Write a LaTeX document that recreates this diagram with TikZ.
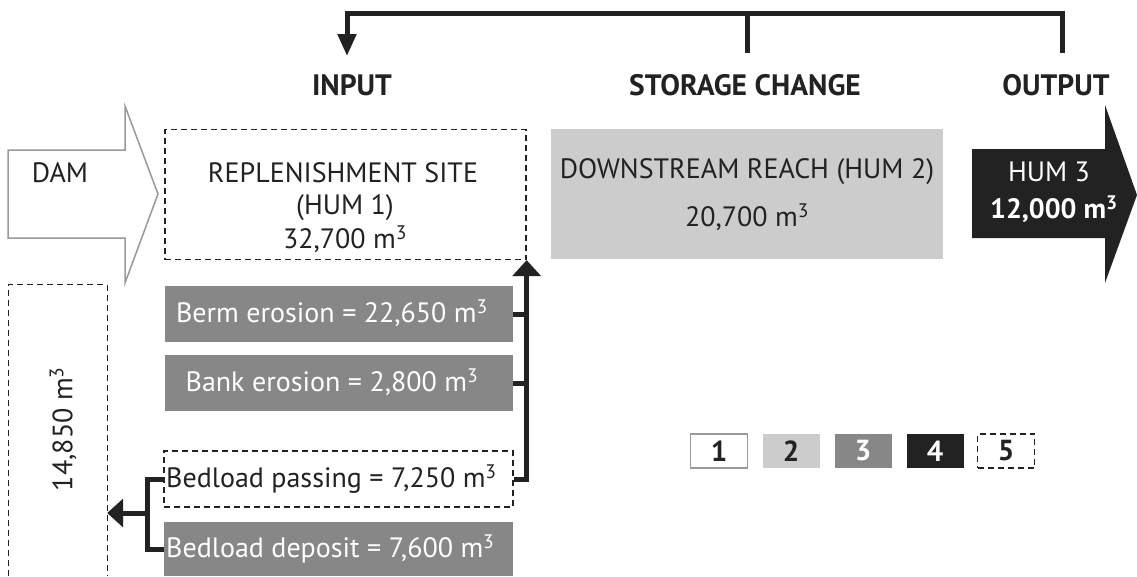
\documentclass[tikz,border=0pt]{standalone}
\usepackage{fontspec}
\setmainfont{PT Sans}
\usetikzlibrary{arrows.meta}
\definecolor{lgray}{HTML}{CCCCCC}
\definecolor{dgray}{HTML}{878787}
\definecolor{nblack}{HTML}{222222}
\definecolor{ogray}{HTML}{999999}
\begin{document}
\begin{tikzpicture}[x=1pt,y=-1pt,
  txt/.style={font=\fontsize{28}{32}\selectfont, inner sep=0pt, text=nblack},
  headtxt/.style={font=\fontsize{29.5}{32}\selectfont\bfseries, inner sep=0pt, text=nblack},
  wtxt/.style={font=\fontsize{28}{32}\selectfont, inner sep=0pt, text=white},
  dbox/.style={draw=nblack, line width=1.3pt, dash pattern=on 6pt off 4pt, inner sep=0pt},
  gbox/.style={fill=dgray, inner sep=0pt, minimum width=348pt, minimum height=56pt},
  legbox/.style={minimum width=57pt, minimum height=34pt, inner sep=0pt, font=\fontsize{29}{32}\selectfont\bfseries},
  bline/.style={line width=5pt, draw=nblack},
  tarrow/.style={bline, -{Triangle[length=22pt,width=18pt]}},
  varrow/.style={bline, -{Triangle[length=16pt,width=28pt]}},
]
\useasboundingbox[fill=white] (0,0) rectangle (1137,576);

% headings
\node[headtxt] (inp) at (352,85) {INPUT};
\node[headtxt] (stor) at (745,85) {STORAGE CHANGE};
\node[headtxt] (outp) at (1056,85) {OUTPUT};

% top bracket
\coordinate (tOut) at (1062,53);
\coordinate (tSt) at (747,53);
\coordinate (tIn) at (347,56);
\draw[tarrow] (tOut) -- ++(0,-40) -| (tIn);
\draw[bline] (tSt) -- ++(0,-40);

% DAM arrow
\draw[draw=ogray, line width=1.5pt, fill=white, line join=miter]
  (8,150) -- (125,150) -- (125,106) -- (158,194) -- (125,283) -- (125,238) -- (8,238) -- cycle;
\node[txt] (dam) at (60,173) {DAM};

% replenishment site
\node[dbox, minimum width=361pt, minimum height=130pt] (rep) at (345.5,194.5) {};
\node[txt] (rep1) at (343,173) {REPLENISHMENT SITE};
\node[txt] (rep2) at (345,208) {(HUM 1)};
\node[txt] (rep3) at (345,239) {32,700 m\textsuperscript{3}};

% downstream reach
\node[fill=lgray, inner sep=0pt, minimum width=392pt, minimum height=130pt] (ds) at (747,194) {};
\node[txt] (ds1) at (747,172) {DOWNSTREAM REACH (HUM 2)};
\node[txt] (ds2) at (747,217) {20,700 m\textsuperscript{3}};

% HUM 3 arrow
\fill[nblack] (972,149) -- (1105,149) -- (1105,105) -- (1137,195) -- (1105,283) -- (1105,238) -- (972,238) -- cycle;
\node[wtxt] (h1) at (1049,172) {HUM 3};
\node[wtxt, font=\fontsize{28}{32}\selectfont\bfseries] (h2) at (1054,209) {12,000 m\textsuperscript{3}};

% erosion boxes
\node[gbox] (berm) at (339,314) {};
\node[wtxt] (bermt) at (332,313) {Berm erosion = 22,650 m\textsuperscript{3}};
\node[gbox] (bank) at (339,383) {};
\node[wtxt] (bankt) at (332,382) {Bank erosion = 2,800 m\textsuperscript{3}};

% bedload boxes
\node[dbox, minimum width=349pt, minimum height=56pt] (bp) at (338.5,479) {};
\node[txt, anchor=west] (bpt) at (166,479) {Bedload passing = 7,250 m\textsuperscript{3}};
\node[fill=dgray, inner sep=0pt, minimum width=349pt, minimum height=54pt] (bd) at (338.5,549) {};
\node[wtxt, anchor=west] (bdt) at (166,549) {Bedload deposit = 7,600 m\textsuperscript{3}};

% left dashed box (open at the bottom)
\node[inner sep=0pt, minimum width=98pt, minimum height=291pt] (lbox) at (58,430.5) {};
\draw[dbox] (lbox.south west) -- (lbox.north west) -- (lbox.north east) -- (lbox.south east);
\node[txt, rotate=90] (lt) at (63,429) {14,850 m\textsuperscript{3}};

% connectors to replenishment site
\draw[varrow] (bp.east) -| (rep.south east);
\draw[bline] (berm.east) -- (berm.east -| rep.east);
\draw[bline] (bank.east) -- (bank.east -| rep.east);

% connectors to left box
\coordinate (jx) at (147,513);
\draw[bline] (bp.west) -| (jx) |- (bd.west);
\draw[varrow] (jx) -- (jx -| lbox.east);

% legend
\node[legbox, draw=ogray, line width=1.5pt, fill=white, text=nblack] (l1) at (719,451) {1};
\node[legbox, fill=lgray, text=nblack] (l2) at (791,451) {2};
\node[legbox, fill=dgray, text=white] (l3) at (863,451) {3};
\node[legbox, fill=nblack, text=white] (l4) at (935,451) {4};
\node[legbox, dbox, minimum width=57pt, minimum height=34pt, text=nblack] (l5) at (1006,451) {5};
\end{tikzpicture}
\end{document}
